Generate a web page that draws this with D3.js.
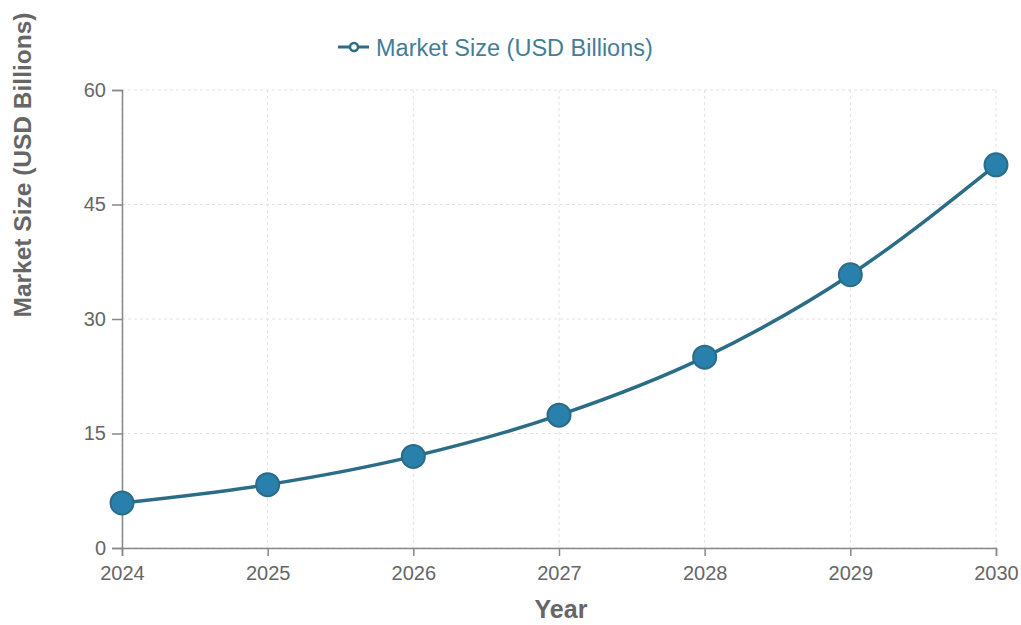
<!DOCTYPE html>
<html>
<head>
<meta charset="utf-8">
<script src="https://cdn.jsdelivr.net/npm/d3@7"></script>
<style>
  html, body { margin: 0; padding: 0; background: #fff; }
  svg { display: block; font-family: "Liberation Sans", Arial, sans-serif; }
</style>
</head>
<body>
<div id="chart"></div>
<script>
// market size line chart, 2024 → 2030
const YEARS = [2024, 2025, 2026, 2027, 2028, 2029, 2030];
const MARKET = [5.9, 8.3, 12.0, 17.4, 25.0, 35.8, 50.2];
const Y_TICKS = [0, 15, 30, 45, 60];
const SERIES_NAME = "Market Size (USD Billions)";

(() => {
  const W = 1021, H = 625, ML = 122, MR = 25, TOP = 90, BOT = 77;
  const LINE = "#2b6c87", DOT = "#2a80ad", INK = "#666", AXIS = "#888";

  const svg = d3.select("#chart").append("svg")
    .attr("width", W).attr("height", H).attr("viewBox", `0 0 ${W} ${H}`);

  const x = d3.scalePoint().domain(YEARS).range([ML, W - MR]);
  const y = d3.scaleLinear().domain([0, 60]).range([H - BOT, TOP]);

  // grid
  const grid = svg.append("g").attr("stroke", "#e2e2e2").attr("stroke-dasharray", "3 3");
  Y_TICKS.forEach(v => {
    grid.append("line").attr("x1", ML).attr("x2", W - MR).attr("y1", y(v)).attr("y2", y(v));
  });
  YEARS.forEach(v => {
    grid.append("line").attr("x1", x(v)).attr("x2", x(v)).attr("y1", TOP).attr("y2", H - BOT);
  });

  // axes
  const ax = svg.append("g").attr("transform", `translate(0,${H - BOT})`)
    .call(d3.axisBottom(x).tickSize(8).tickPadding(10));
  const ay = svg.append("g").attr("transform", `translate(${ML},0)`)
    .call(d3.axisLeft(y).tickValues(Y_TICKS).tickSize(10).tickPadding(6));
  [ax, ay].forEach(g => {
    g.selectAll("path, line").attr("stroke", AXIS).attr("stroke-width", 1.5);
    g.selectAll("text").attr("fill", INK).style("font-size", "20px");
  });
  ax.selectAll("text").attr("dy", "0.71em");

  // axis titles
  svg.append("text").attr("x", 561).attr("y", 618)
    .attr("text-anchor", "middle").attr("fill", INK)
    .style("font", "bold 25px 'Liberation Sans', Arial, sans-serif").text("Year");
  svg.append("text").attr("transform", "translate(31,165) rotate(-90)")
    .attr("text-anchor", "middle").attr("fill", INK)
    .style("font", "bold 24.5px 'Liberation Sans', Arial, sans-serif").text(SERIES_NAME);

  // line + dots
  const pts = YEARS.map((yr, i) => [x(yr), y(MARKET[i])]);
  svg.append("path").attr("d", d3.line().curve(d3.curveMonotoneX)(pts))
    .attr("fill", "none").attr("stroke", LINE).attr("stroke-width", 3.5);
  svg.append("g").selectAll("circle").data(YEARS).join("circle")
    .attr("cx", d => x(d)).attr("cy", (d, i) => y(MARKET[i])).attr("r", 11.5)
    .attr("fill", DOT).attr("stroke", LINE).attr("stroke-width", 2);

  // legend
  const lg = svg.append("g").attr("transform", "translate(338,47)");
  lg.append("line").attr("x1", 0).attr("x2", 31).attr("y1", 0).attr("y2", 0)
    .attr("stroke", LINE).attr("stroke-width", 3);
  lg.append("circle").attr("cx", 16).attr("cy", 0).attr("r", 4)
    .attr("fill", "#fff").attr("stroke", LINE).attr("stroke-width", 2.5);
  lg.append("text").attr("x", 38).attr("y", 9).attr("fill", "#457d96")
    .style("font-size", "23.5px").text(SERIES_NAME);
})();
</script>
</body>
</html>
